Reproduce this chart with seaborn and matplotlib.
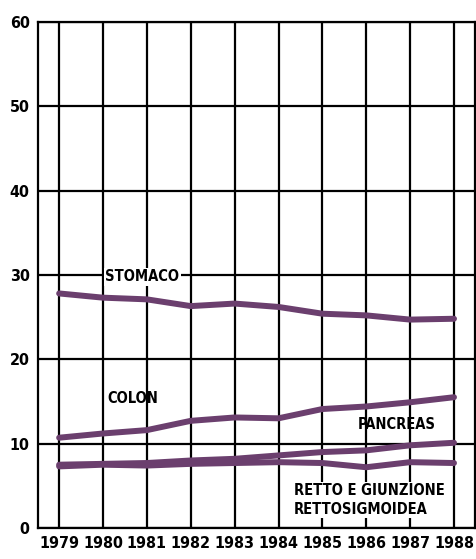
import pandas as pd
import matplotlib.pyplot as plt
import seaborn as sns

# Dati (tassi stimati dal grafico)
anni = [1979, 1980, 1981, 1982, 1983, 1984, 1985, 1986, 1987, 1988]
stomaco = [27.8, 27.3, 27.1, 26.3, 26.6, 26.2, 25.4, 25.2, 24.7, 24.8]
colon = [10.7, 11.2, 11.6, 12.7, 13.1, 13.0, 14.1, 14.4, 14.9, 15.5]
pancreas = [7.5, 7.6, 7.7, 8.0, 8.2, 8.6, 9.0, 9.2, 9.8, 10.1]
retto = [7.3, 7.5, 7.4, 7.6, 7.7, 7.8, 7.7, 7.2, 7.8, 7.7]
serie = ['STOMACO', 'COLON', 'PANCREAS', 'RETTO']

df = pd.DataFrame({
    'anno': anni * 4,
    'valore': stomaco + colon + pancreas + retto,
    'serie': [s for s in serie for _ in anni],
})

sns.set_style("white")
plt.rcParams['font.family'] = ['DejaVu Sans']
plt.rcParams['font.stretch'] = 'condensed'
plt.rcParams['text.color'] = 'black'

viola = '#6b3f6e'
fig = plt.figure(figsize=(4.76, 5.59), dpi=100)
ax = fig.add_axes([0.080, 0.0555, 0.918, 0.9055])

sns.lineplot(data=df, x='anno', y='valore', hue='serie',
             palette=[viola] * 4, linewidth=4.3, legend=False, ax=ax, zorder=3)

ax.set_xlim(1978.52, 1988.48)
ax.set_ylim(0, 60)
ax.set_xticks(anni)
ax.set_yticks([0, 10, 20, 30, 40, 50, 60])
ax.grid(True, color='black', linewidth=1.6)
ax.set_axisbelow(True)
for sp in ax.spines.values():
    sp.set_color('black')
    sp.set_linewidth(1.6)
ax.tick_params(length=0, pad=6, labelsize=11.5, labelcolor='black')
for lab in ax.get_xticklabels() + ax.get_yticklabels():
    lab.set_fontweight('bold')
    lab.set_fontstretch('condensed')
ax.set_xlabel('')
ax.set_ylabel('')

# etichette delle serie, su fondo bianco dove coprono la griglia
box = dict(facecolor='white', edgecolor='none', pad=1)
kw = dict(fontsize=10.5, fontweight='bold', fontstretch='condensed',
          color='black', va='center', ha='left', zorder=4)
ax.text(1980.05, 29.8, 'STOMACO', bbox=box, **kw)
ax.text(1980.1, 15.4, 'COLON', **kw)
ax.text(1985.8, 12.3, 'PANCREAS', **kw)
ax.text(1984.35, 3.3, 'RETTO E GIUNZIONE\nRETTOSIGMOIDEA', bbox=box,
        linespacing=1.3, **kw)

fig.savefig('out.png', dpi=100)
